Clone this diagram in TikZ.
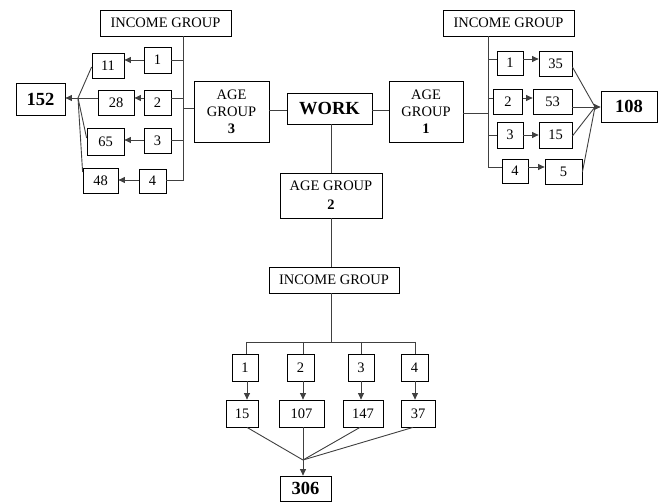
\documentclass[tikz,border=0pt]{standalone}
\usepackage{fontspec}
\setmainfont{Liberation Serif}
\usetikzlibrary{arrows.meta}
\begin{document}
\begin{tikzpicture}[x=1pt,y=-1pt,
  box/.style={draw=black,line width=0.8pt,inner sep=0pt,align=center,font=\fontsize{14.5}{15}\selectfont},
  bigbox/.style={box,font=\fontsize{18.5}{19}\selectfont\bfseries},
  conn/.style={draw=black!75,line width=0.9pt},
  arr/.style={conn,-{Triangle[length=6.5pt,width=6pt]}}]
\useasboundingbox (0,0) rectangle (664,502);
% ---- centre
\node[bigbox,minimum width=85pt,minimum height=31pt] (work) at (329.5,108.5) {WORK};
\node[box,minimum width=75pt,minimum height=61pt,font=\fontsize{14.5}{17}\selectfont] (ag3) at (231.5,111.5) {AGE\\GROUP\\\textbf{3}};
\node[box,minimum width=74pt,minimum height=61pt,font=\fontsize{14.5}{17}\selectfont] (ag1) at (426,111.5) {AGE\\GROUP\\\textbf{1}};
\node[box,minimum width=102pt,minimum height=45pt,font=\fontsize{14.5}{19}\selectfont] (ag2) at (331,195.5) {AGE GROUP\\\textbf{2}};
% ---- left
\node[box,minimum width=131pt,minimum height=26pt] (lig) at (165.5,23) {INCOME GROUP};
\coordinate (lbus) at (183,0);
\node[box,minimum width=27pt,minimum height=26pt] (l1) at (157.5,60) {1};
\node[box,minimum width=32pt,minimum height=25pt] (l11) at (108,65.5) {11};
\node[box,minimum width=27pt,minimum height=25pt] (l2) at (157.5,102.5) {2};
\node[box,minimum width=36pt,minimum height=25pt] (l28) at (116,102.5) {28};
\node[box,minimum width=27pt,minimum height=25pt] (l3) at (157.5,140.5) {3};
\node[box,minimum width=37pt,minimum height=27pt] (l65) at (105.5,141.5) {65};
\node[box,minimum width=27pt,minimum height=24pt] (l4) at (152.5,181) {4};
\node[box,minimum width=35pt,minimum height=25pt] (l48) at (100.5,180.5) {48};
\node[bigbox,minimum width=49pt,minimum height=32pt] (l152) at (40.5,99) {152};
\coordinate (jl) at (78,98);
% ---- right
\node[box,minimum width=131pt,minimum height=26pt] (rig) at (508.5,23) {INCOME GROUP};
\coordinate (rbus) at (488,0);
\node[box,minimum width=26pt,minimum height=24pt] (r1) at (510,63) {1};
\node[box,minimum width=33pt,minimum height=25pt] (r35) at (555.5,63.5) {35};
\node[box,minimum width=29pt,minimum height=25pt] (r2) at (508,101.5) {2};
\node[box,minimum width=39pt,minimum height=25pt] (r53) at (552.5,101.5) {53};
\node[box,minimum width=26pt,minimum height=26pt] (r3) at (510,135) {3};
\node[box,minimum width=33pt,minimum height=26pt] (r15) at (555.5,135) {15};
\node[box,minimum width=26pt,minimum height=24pt] (r4) at (515,171) {4};
\node[box,minimum width=37pt,minimum height=25pt] (r5) at (563.5,171.5) {5};
\node[bigbox,minimum width=56pt,minimum height=31pt] (r108) at (629,106.5) {108};
\coordinate (jr) at (595,107);
% ---- bottom
\node[box,minimum width=130pt,minimum height=26pt] (cig) at (334,280) {INCOME GROUP};
\coordinate (cbus) at (0,342);
\node[box,minimum width=26pt,minimum height=27pt] (b1) at (245,367.5) {1};
\node[box,minimum width=27pt,minimum height=27pt] (b2) at (300.5,367.5) {2};
\node[box,minimum width=26pt,minimum height=27pt] (b3) at (361,367.5) {3};
\node[box,minimum width=27pt,minimum height=27pt] (b4) at (414.5,367.5) {4};
\node[box,minimum width=32pt,minimum height=27pt] (c15) at (242,413.5) {15};
\node[box,minimum width=45pt,minimum height=27pt] (c107) at (301.5,413.5) {107};
\node[box,minimum width=40pt,minimum height=27pt] (c147) at (363,413.5) {147};
\node[box,minimum width=34pt,minimum height=27pt] (c37) at (418,413.5) {37};
\node[bigbox,minimum width=51pt,minimum height=25pt] (t306) at (305.5,488.5) {306};
\coordinate (jc) at (303,460);
% ---- connectors centre
\draw[conn] (ag3.east |- 0,110) -- (work.west |- 0,110);
\draw[conn] (work.east |- 0,110) -- (ag1.west |- 0,110);
\draw[conn] (work.south -| 331,0) -- (ag2.north -| 331,0);
\draw[conn] (ag2.south -| 331,0) -- (cig.north -| 331,0);
% ---- connectors left
\draw[conn] (lbus |- lig.south) -- (lbus |- 0,180) -- (l4.east |- 0,180);
\draw[conn] (ag3.west |- 0,108) -- (lbus |- 0,108);
\draw[conn] (lbus |- 0,60) -- (l1.east |- 0,60);
\draw[conn] (lbus |- 0,98) -- (l2.east |- 0,98);
\draw[conn] (lbus |- 0,140) -- (l3.east |- 0,140);
\draw[arr] (l1.west |- 0,60) -- (l11.east |- 0,60);
\draw[arr] (l2.west |- 0,98) -- (l28.east |- 0,98);
\draw[arr] (l3.west |- 0,140) -- (l65.east |- 0,140);
\draw[arr] (l4.west |- 0,180) -- (l48.east |- 0,180);
\draw[conn] (l11.west |- 0,67) -- (jl);
\draw[conn] (l28.west |- 0,98) -- (jl);
\draw[conn] (l65.west |- 0,138) -- (jl);
\draw[conn] (l48.west |- 0,172) -- (jl);
\draw[arr] (jl) -- (l152.east |- jl);
% ---- connectors right
\draw[conn] (ag1.east |- 0,113) -- (rbus |- 0,113);
\draw[conn] (rbus |- rig.south) -- (rbus |- 0,167) -- (r4.west |- 0,167);
\draw[conn] (rbus |- 0,59) -- (r1.west |- 0,59);
\draw[conn] (rbus |- 0,98) -- (r2.west |- 0,98);
\draw[conn] (rbus |- 0,135) -- (r3.west |- 0,135);
\draw[arr] (r1.east |- 0,59) -- (r35.west |- 0,59);
\draw[arr] (r2.east |- 0,98) -- (r53.west |- 0,98);
\draw[arr] (r3.east |- 0,135) -- (r15.west |- 0,135);
\draw[arr] (r4.east |- 0,167) -- (r5.west |- 0,167);
\draw[conn] (r35.east |- 0,67) -- (jr);
\draw[conn] (r53.east |- 0,107) -- (jr);
\draw[conn] (r15.east |- 0,136) -- (jr);
\draw[conn] (r5.east |- 0,172) -- (jr);
\draw[arr] (jr) -- (r108.west |- jr);
% ---- connectors bottom
\draw[conn] (cig.south -| 331,0) -- (331,0 |- cbus);
\draw[conn] (246,0 |- cbus) -- (415,0 |- cbus);
\draw[conn] (246,0 |- cbus) -- (b1.north -| 246,0);
\draw[conn] (303,0 |- cbus) -- (b2.north -| 303,0);
\draw[conn] (361,0 |- cbus) -- (b3.north -| 361,0);
\draw[conn] (415,0 |- cbus) -- (b4.north -| 415,0);
\draw[arr] (b1.south -| 247,0) -- (c15.north -| 247,0);
\draw[arr] (b2.south -| 303,0) -- (c107.north -| 303,0);
\draw[arr] (b3.south -| 361,0) -- (c147.north -| 361,0);
\draw[arr] (b4.south -| 415,0) -- (c37.north -| 415,0);
\draw[conn] (c15.south -| 247,0) -- (jc);
\draw[conn] (c107.south -| 303,0) -- (jc);
\draw[conn] (c147.south -| 360,0) -- (jc);
\draw[conn] (c37.south -| 413,0) -- (jc);
\draw[arr] (jc) -- (t306.north -| jc);
\end{tikzpicture}
\end{document}
